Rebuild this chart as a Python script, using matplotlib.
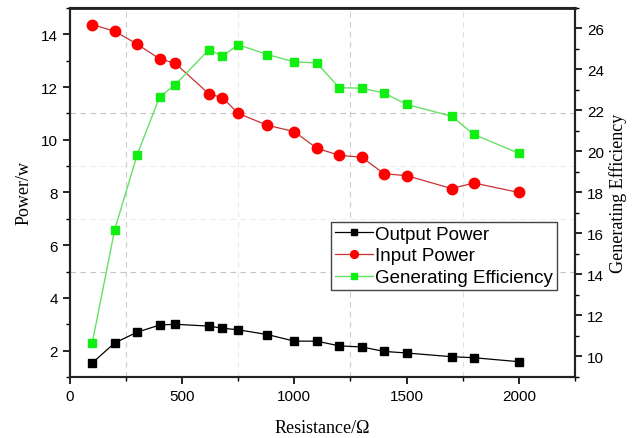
import matplotlib
matplotlib.use("Agg")
import matplotlib.pyplot as plt
from matplotlib.ticker import MultipleLocator

resistance = [100, 200, 300, 400, 470, 620, 680, 750, 880, 1000, 1100, 1200, 1300, 1400, 1500, 1700, 1800, 2000]
output_power = [1.53, 2.29, 2.70, 2.97, 3.00, 2.93, 2.85, 2.79, 2.61, 2.36, 2.36, 2.18, 2.14, 1.97, 1.91, 1.77, 1.73, 1.58]
input_power = [14.37, 14.12, 13.63, 13.07, 12.90, 11.74, 11.60, 11.00, 10.55, 10.31, 9.68, 9.41, 9.34, 8.71, 8.64, 8.15, 8.36, 8.00]
efficiency = [10.65, 16.18, 19.83, 22.66, 23.26, 24.97, 24.65, 25.21, 24.73, 24.37, 24.32, 23.11, 23.09, 22.85, 22.30, 21.72, 20.83, 19.91]

sans = "Liberation Sans"
serif = "Liberation Serif"

fig = plt.figure(figsize=(6.34, 4.39), dpi=100)
ax = fig.add_axes([0.110, 0.139, 0.797, 0.8405])
ax2 = ax.twinx()

# grid (dashed light gray)
for gx, c in [(250, "#cccccc"), (750, "#e8e8e8"), (1250, "#cccccc"), (1750, "#e0e0e0")]:
    ax.axvline(gx, color=c, ls=(0, (5, 4)), lw=0.8, zorder=0)
for gy, c in [(5, "#c4c4c4"), (11, "#c4c4c4"), (7, "#ececec"), (9, "#ececec")]:
    ax.axhline(gy, color=c, ls=(0, (5, 4)), lw=0.8, zorder=0)

l1, = ax.plot(resistance, output_power, color="black", lw=0.9, marker="s", ms=6,
              mfc="black", mec="black", label="Output Power", zorder=3)
l2, = ax.plot(resistance, input_power, color="#c83232", lw=0.9, marker="o", ms=7.5,
              mfc="#ff0000", mec="#ff0000", label="Input Power", zorder=3)
l3, = ax2.plot(resistance, efficiency, color="#66e066", lw=1.0, marker="s", ms=6,
               mfc="#11ee11", mec="#11ee11", label="Generating Efficiency", zorder=3)

ax.set_xlim(0, 2250)
ax.set_ylim(1, 15)
ax2.set_ylim(9, 27)

ax.xaxis.set_major_locator(MultipleLocator(500))
ax.xaxis.set_minor_locator(MultipleLocator(250))
ax.yaxis.set_minor_locator(MultipleLocator(1))
ax2.yaxis.set_minor_locator(MultipleLocator(1))
ax.set_yticks([2, 4, 6, 8, 10, 12, 14])
ax2.set_yticks([10, 12, 14, 16, 18, 20, 22, 24, 26])

for a in (ax, ax2):
    a.tick_params(which="major", direction="out", length=5, width=1.2, labelsize=11)
    a.tick_params(which="minor", direction="out", length=3, width=1.0)
    for lab in a.get_xticklabels() + a.get_yticklabels():
        lab.set_fontfamily(sans)
    for s in a.spines.values():
        s.set_linewidth(1.5)
        s.set_color("#222222")
ax2.spines["top"].set_linewidth(2)

ax.set_xlabel("Resistance/\u03a9", fontfamily=serif, fontsize=13, labelpad=12)
ax.set_ylabel("Power/w", fontfamily=serif, fontsize=13, labelpad=6)
ax2.set_ylabel("Generating Efficiency", fontfamily=serif, fontsize=13, labelpad=4)

leg = ax2.legend(handles=[l1, l2, l3], loc="upper left", bbox_to_anchor=(0.518, 0.421),
                 frameon=True, fancybox=False, edgecolor="#444444", framealpha=1,
                 prop={"family": sans, "size": 13.5}, handlelength=2.0, handletextpad=0.12,
                 borderpad=0.2, labelspacing=0.25, borderaxespad=0, markerscale=0.75)
leg.get_frame().set_linewidth(1.0)
leg.set_zorder(5)

fig.savefig("out.png", dpi=100)
